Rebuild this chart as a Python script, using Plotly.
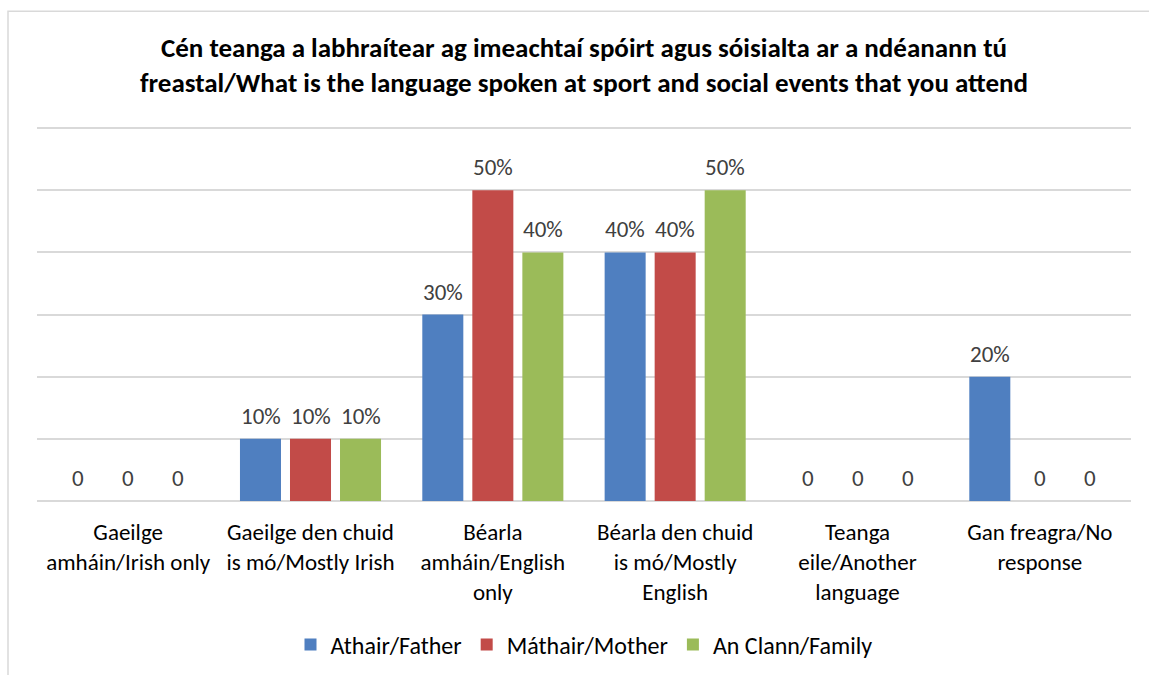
import plotly.graph_objects as go

categories = [
    "Gaeilge<br>amháin/Irish only",
    "Gaeilge den chuid<br>is mó/Mostly Irish",
    "Béarla<br>amháin/English<br>only",
    "Béarla den chuid<br>is mó/Mostly<br>English",
    "Teanga<br>eile/Another<br>language",
    "Gan freagra/No<br>response",
]
father = [0.0, 0.10, 0.30, 0.40, 0.0, 0.20]
mother = [0.0, 0.10, 0.50, 0.40, 0.0, 0.0]
family = [0.0, 0.10, 0.40, 0.50, 0.0, 0.0]

series_names = ["Athair/Father", "Máthair/Mother", "An Clann/Family"]
series_values = [father, mother, family]
series_colors = ["#4F7FC0", "#C24B48", "#9BBB59"]

FONT = "Calibri, Carlito, Lato, sans-serif"
TEXT_GREY = "#404040"

# plot area: 0 at y=501px, 60% at y=128px; range padded slightly so the 60% grid shows
Y_MAX = 0.61
PLOT_BOTTOM = 501
PX_PER_UNIT = (501 - 128) / 0.6
PLOT_TOP = PLOT_BOTTOM - Y_MAX * PX_PER_UNIT
PLOT_H = PLOT_BOTTOM - PLOT_TOP

fig = go.Figure()
for name, vals, col in zip(series_names, series_values, series_colors):
    fig.add_trace(go.Bar(
        name=name,
        x=categories,
        y=vals,
        marker=dict(color=col, line=dict(width=0)),
    ))

# value labels above each bar: zero values print as "0"
slot_px = 50
for i, vals in enumerate(series_values):
    for cat, v in zip(categories, vals):
        label = "0" if v == 0 else f"{round(v * 100)}%"
        fig.add_annotation(
            x=cat, y=v, xref="x", yref="y",
            text=label, showarrow=False,
            xshift=(i - 1) * slot_px, yshift=23,
            yanchor="middle",
            font=dict(family=FONT, size=23, color=TEXT_GREY),
        )

# chart area outline
fig.add_shape(
    type="rect", xref="paper", yref="paper",
    x0=-0.0265, x1=1.03,
    y0=-(690 - PLOT_BOTTOM) / PLOT_H, y1=(PLOT_BOTTOM - 11) / PLOT_H,
    line=dict(color="#D9D9D9", width=1.5), fillcolor="rgba(0,0,0,0)",
    layer="below",
)

fig.update_layout(
    width=1149, height=675,
    margin=dict(l=37, r=18, t=PLOT_TOP, b=675 - PLOT_BOTTOM, autoexpand=False),
    paper_bgcolor="white", plot_bgcolor="white",
    barmode="group", bargap=0.177, bargroupgap=0.18,
    title=dict(
        text="<b>Cén teanga a labhraítear ag imeachtaí spóirt agus sóisialta ar a ndéanann tú<br>"
             "freastal/What is the language spoken at sport and social events that you attend</b>",
        x=0.5, xref="paper", xanchor="center",
        y=1 - 57 / 675, yref="container", yanchor="middle",
        font=dict(family=FONT, size=27, color="#000000"),
    ),
    legend=dict(
        orientation="h", x=0.5, xanchor="center",
        y=-(645 - PLOT_BOTTOM) / PLOT_H, yanchor="middle",
        font=dict(family=FONT, size=24, color="#000000"),
        itemwidth=30, tracegroupgap=0,
    ),
    xaxis=dict(
        showgrid=False, showline=False, ticks="",
        tickfont=dict(family=FONT, size=23, color="#000000"),
        ticklabelstandoff=15, automargin=False,
    ),
    yaxis=dict(
        range=[0, Y_MAX], tick0=0, dtick=0.1, showticklabels=False,
        showgrid=True, gridcolor="#D9D9D9", gridwidth=1.5,
        zeroline=True, zerolinecolor="#D9D9D9", zerolinewidth=1.5,
        showline=False, ticks="", automargin=False,
    ),
    showlegend=True,
)

fig.write_html("out.html")
